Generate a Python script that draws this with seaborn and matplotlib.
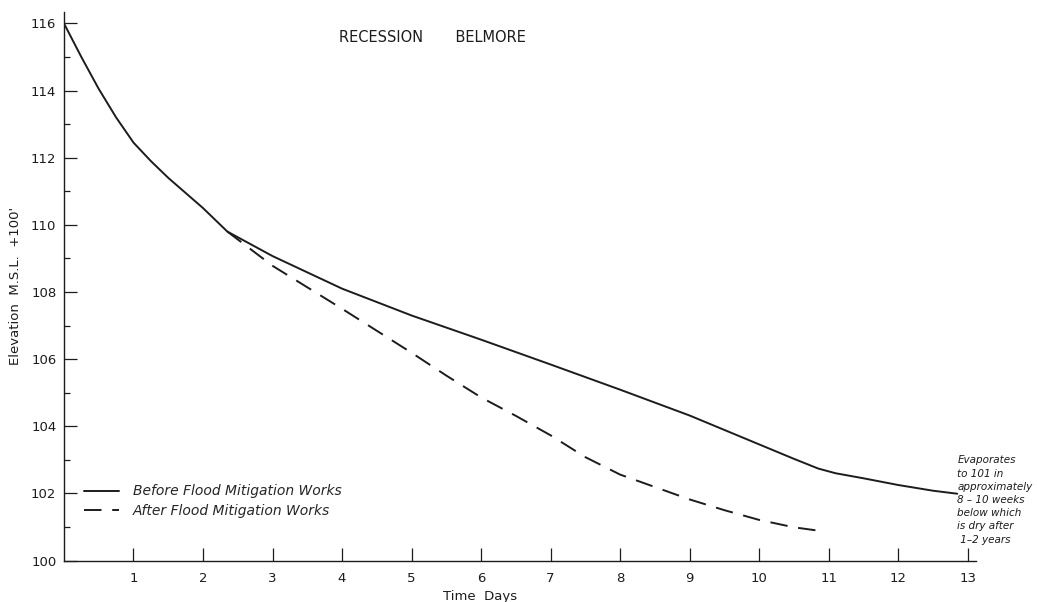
import matplotlib
matplotlib.use("Agg")
import matplotlib.pyplot as plt
from matplotlib.ticker import MultipleLocator
import seaborn as sns

# Recession curve, Belmore: elevation (M.S.L. +100') against time in days
before_days = [0, 0.25, 0.5, 0.75, 1, 1.25, 1.5, 1.75, 2, 2.35, 3, 4, 5, 6, 7,
               8, 9, 10, 10.5, 10.85, 11.1, 11.5, 12, 12.5, 12.85]
before_elev = [116, 115.0, 114.05, 113.2, 112.45, 111.9, 111.4, 110.95, 110.5,
               109.8, 109.07, 108.1, 107.3, 106.58, 105.84, 105.09, 104.32,
               103.46, 103.03, 102.74, 102.6, 102.45, 102.25, 102.08, 101.99]

after_days = [2.35, 3, 4, 5, 5.5, 6, 6.5, 7, 7.5, 8, 8.5, 9, 9.5, 10, 10.5,
              10.85]
after_elev = [109.8, 108.78, 107.5, 106.19, 105.51, 104.86, 104.31, 103.73,
              103.08, 102.56, 102.19, 101.82, 101.5, 101.21, 100.99, 100.89]

x_ticks = list(range(1, 14))
y_ticks = list(range(100, 117, 2))

series_labels = ["Before Flood Mitigation Works", "After Flood Mitigation Works"]
title_text = "RECESSION       BELMORE"
x_label = "Time  Days"
y_label = "Elevation  M.S.L.  +100'"
note_text = ("Evaporates\nto 101 in\napproximately\n8 \u2013 10 weeks\n"
             "below which\nis dry after\n 1\u20132 years")

sns.set_theme(style="ticks")
plt.rcParams["font.family"] = ["DejaVu Sans"]
ink = "#1c1c1c"

fig = plt.figure(figsize=(10.37, 6.02), dpi=100)
ax = fig.add_axes([0.0617, 0.0689, 0.8795, 0.9111])

sns.lineplot(x=before_days, y=before_elev, ax=ax, color=ink, linewidth=1.4,
             label=series_labels[0], sort=True)
sns.lineplot(x=after_days, y=after_elev, ax=ax, color=ink, linewidth=1.4,
             linestyle=(0, (9, 5.5)), label=series_labels[1], sort=True)

ax.set_xlim(0, 13.12)
ax.set_ylim(100, 116.34)

ax.set_xticks(x_ticks)
ax.set_xticklabels([str(v) for v in x_ticks])
ax.set_yticks(y_ticks)
ax.set_yticklabels([str(v) for v in y_ticks])
ax.yaxis.set_minor_locator(MultipleLocator(1))

ax.tick_params(axis="x", which="major", direction="in", length=9.4, width=0.9,
               pad=8.3, labelsize=9.5, colors=ink)
ax.tick_params(axis="y", which="major", direction="in", length=9.4, width=0.9,
               pad=5.5, labelsize=9.5, colors=ink)
ax.tick_params(axis="y", which="minor", direction="in", length=4.5, width=0.9,
               colors=ink)
ax.tick_params(axis="x", which="minor", length=0)

for side in ("top", "right"):
    ax.spines[side].set_visible(False)
for side in ("left", "bottom"):
    ax.spines[side].set_linewidth(1.0)
    ax.spines[side].set_color(ink)

ax.set_xlabel(x_label, fontsize=9.5, color=ink)
ax.xaxis.set_label_coords(0.456, -0.054)
ax.set_ylabel(y_label, fontsize=9.5, color=ink)
ax.yaxis.set_label_coords(-0.046, 0.5)

ax.text(0.4035, 0.954, title_text, transform=ax.transAxes, ha="center",
        va="center", fontsize=10.5, color=ink)

ax.legend(loc="upper left", bbox_to_anchor=(0.022, 0.1387), frameon=False,
          borderpad=0, borderaxespad=0, handlelength=2.5, handletextpad=1.0,
          labelspacing=0.42, prop={"size": 10, "style": "italic"})

ax.text(12.85, 103.13, note_text, ha="left", va="top", fontsize=7.5,
        style="italic", linespacing=1.4, color=ink, clip_on=False)

fig.savefig("out.png", dpi=100)
